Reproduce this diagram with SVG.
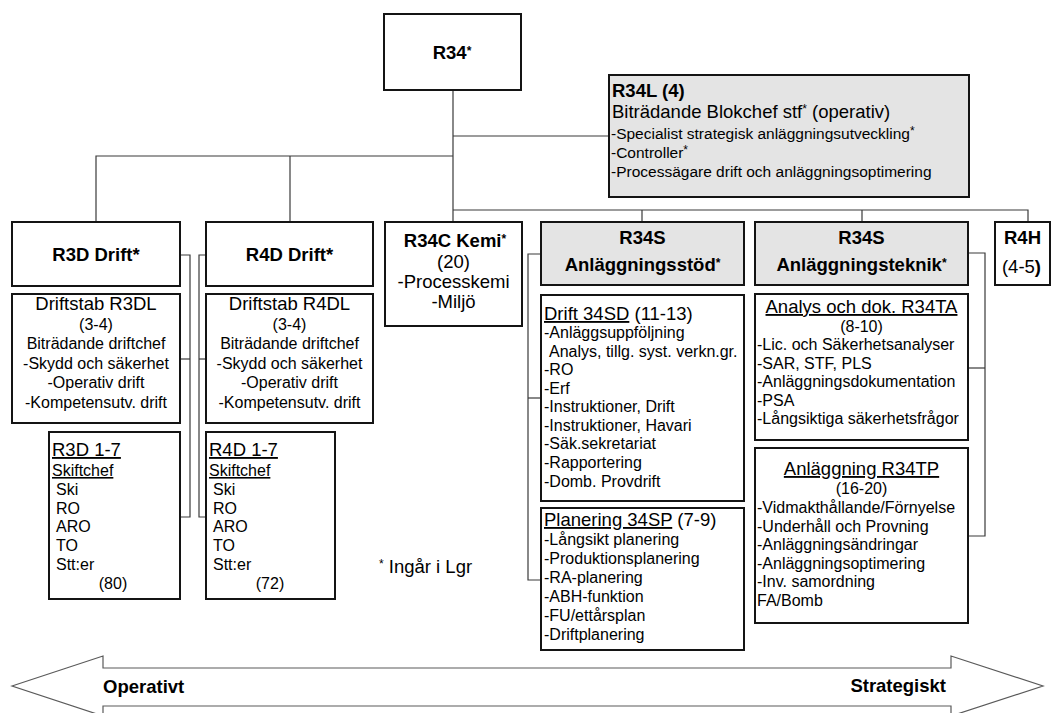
<svg xmlns="http://www.w3.org/2000/svg" width="1052" height="713" viewBox="0 0 1052 713">
  <style>
    .box { fill: #ffffff; stroke: #141414; stroke-width: 2; }
    .grey { fill: #e4e4e4; }
    .conn { fill: none; stroke: #3a3a3a; stroke-width: 1.2; }
    .band { fill: #ffffff; stroke: #5a5a5a; stroke-width: 1.2; }
    text { font-family: "Liberation Sans", Arial, sans-serif; fill: #000000; }
    .h { font-size: 18.5px; font-weight: bold; }
    .m { font-size: 18.5px; }
    .s { font-size: 16px; }
    .xs { font-size: 15.5px; }
    .c { text-anchor: middle; }
    .u { text-decoration: underline; }
    .star { font-size: 12px; }
  </style>

  <!-- connectors -->
  <g id="connectors">
    <path class="conn" d="M453 90 V222"/>
    <path class="conn" d="M453 136 H609"/>
    <path class="conn" d="M96 222 V156 H453"/>
    <path class="conn" d="M290 156 V222"/>
    <path class="conn" d="M453 210 H1028 V222"/>
    <path class="conn" d="M642 210 V222"/>
    <path class="conn" d="M862 210 V222"/>
    <!-- R3D side links -->
    <path class="conn" d="M180 255 H190 V517 H180"/>
    <path class="conn" d="M180 359 H190"/>
    <!-- R4D side links -->
    <path class="conn" d="M206 255 H199 V517 H206"/>
    <path class="conn" d="M206 359 H199"/>
    <!-- R34S support links -->
    <path class="conn" d="M541 254 H528 V580 H541"/>
    <path class="conn" d="M528 398 H541"/>
    <!-- R34S engineering links -->
    <path class="conn" d="M968 253 H985 V536 H968"/>
    <path class="conn" d="M968 368 H985"/>
  </g>

  <g id="r34">
    <rect class="box" x="384" y="14" width="137" height="76"/>
    <text class="h c" x="452" y="59">R34<tspan class="star" dy="-4">*</tspan></text>
  </g>

  <g id="r34l">
    <rect class="box grey" x="609" y="75" width="360" height="122"/>
    <text class="h" x="612" y="97">R34L (4)</text>
    <text class="m" x="612" y="118">Biträdande Blokchef stf<tspan class="star" dy="-5">*</tspan><tspan dy="5"> (operativ)</tspan></text>
    <text class="xs" x="611" y="139">-Specialist strategisk anläggningsutveckling<tspan class="star" dy="-4">*</tspan></text>
    <text class="xs" x="611" y="158">-Controller<tspan class="star" dy="-4">*</tspan></text>
    <text class="xs" x="611" y="177">-Processägare drift och anläggningsoptimering</text>
  </g>

  <g id="r3d">
    <rect class="box" x="12" y="222" width="168" height="64"/>
    <text class="h c" x="96" y="261">R3D Drift*</text>
  </g>

  <g id="r3dl">
    <rect class="box" x="12" y="294" width="168" height="129"/>
    <text class="m c" x="96" y="310">Driftstab R3DL</text>
    <text class="s c" x="96" y="329.5">(3-4)</text>
    <text class="s c" x="96" y="349">Biträdande driftchef</text>
    <text class="s c" x="96" y="368.5">-Skydd och säkerhet</text>
    <text class="s c" x="96" y="388">-Operativ drift</text>
    <text class="s c" x="96" y="407.5">-Kompetensutv. drift</text>
  </g>

  <g id="r3d17">
    <rect class="box" x="49" y="432" width="131" height="167"/>
    <text class="m u" x="52" y="456">R3D 1-7</text>
    <text class="s u" x="52" y="476">Skiftchef</text>
    <text class="s" x="56" y="495">Ski</text>
    <text class="s" x="56" y="514">RO</text>
    <text class="s" x="56" y="532">ARO</text>
    <text class="s" x="56" y="551">TO</text>
    <text class="s" x="56" y="570">Stt:er</text>
    <text class="s c" x="113" y="589">(80)</text>
  </g>

  <g id="r4d">
    <rect class="box" x="206" y="222" width="167" height="64"/>
    <text class="h c" x="289.5" y="261">R4D Drift*</text>
  </g>

  <g id="r4dl">
    <rect class="box" x="206" y="294" width="167" height="129"/>
    <text class="m c" x="289.5" y="310">Driftstab R4DL</text>
    <text class="s c" x="289.5" y="329.5">(3-4)</text>
    <text class="s c" x="289.5" y="349">Biträdande driftchef</text>
    <text class="s c" x="289.5" y="368.5">-Skydd och säkerhet</text>
    <text class="s c" x="289.5" y="388">-Operativ drift</text>
    <text class="s c" x="289.5" y="407.5">-Kompetensutv. drift</text>
  </g>

  <g id="r4d17">
    <rect class="box" x="206" y="432" width="129" height="167"/>
    <text class="m u" x="209" y="456">R4D 1-7</text>
    <text class="s u" x="209" y="476">Skiftchef</text>
    <text class="s" x="213" y="495">Ski</text>
    <text class="s" x="213" y="514">RO</text>
    <text class="s" x="213" y="532">ARO</text>
    <text class="s" x="213" y="551">TO</text>
    <text class="s" x="213" y="570">Stt:er</text>
    <text class="s c" x="270" y="589">(72)</text>
  </g>

  <g id="r34c">
    <rect class="box" x="385" y="222" width="137" height="104"/>
    <text class="h c" x="455" y="247">R34C Kemi<tspan class="star" dy="-4">*</tspan></text>
    <text class="m c" x="453.5" y="268">(20)</text>
    <text class="m c" x="453.5" y="288">-Processkemi</text>
    <text class="m c" x="453.5" y="308">-Miljö</text>
  </g>

  <g id="r34s-stod">
    <rect class="box grey" x="541" y="222" width="203" height="63"/>
    <text class="h c" x="642.5" y="244">R34S</text>
    <text class="h c" x="642.5" y="271">Anläggningsstöd<tspan class="star" dy="-4">*</tspan></text>
  </g>

  <g id="drift34sd">
    <rect class="box" x="541" y="295" width="203" height="206"/>
    <text class="m" x="544" y="320"><tspan class="u">Drift 34SD</tspan> (11-13)</text>
    <text class="s" x="544" y="338">-Anläggsuppföljning</text>
    <text class="s" x="549" y="357">Analys, tillg. syst. verkn.gr.</text>
    <text class="s" x="544" y="375">-RO</text>
    <text class="s" x="544" y="394">-Erf</text>
    <text class="s" x="544" y="412">-Instruktioner, Drift</text>
    <text class="s" x="544" y="431">-Instruktioner, Havari</text>
    <text class="s" x="544" y="449">-Säk.sekretariat</text>
    <text class="s" x="544" y="468">-Rapportering</text>
    <text class="s" x="544" y="487">-Domb. Provdrift</text>
  </g>

  <g id="planering34sp">
    <rect class="box" x="541" y="508" width="203" height="142"/>
    <text class="m" x="544" y="526"><tspan class="u">Planering 34SP</tspan> (7-9)</text>
    <text class="s" x="544" y="545">-Långsikt planering</text>
    <text class="s" x="544" y="564">-Produktionsplanering</text>
    <text class="s" x="544" y="583">-RA-planering</text>
    <text class="s" x="544" y="602">-ABH-funktion</text>
    <text class="s" x="544" y="621">-FU/ettårsplan</text>
    <text class="s" x="544" y="640">-Driftplanering</text>
  </g>

  <g id="r34s-teknik">
    <rect class="box grey" x="755" y="222" width="213" height="63"/>
    <text class="h c" x="861.5" y="244">R34S</text>
    <text class="h c" x="861.5" y="271">Anläggningsteknik<tspan class="star" dy="-4">*</tspan></text>
  </g>

  <g id="r34ta">
    <rect class="box" x="755" y="294" width="213" height="146"/>
    <text class="m c u" x="861.5" y="313">Analys och dok. R34TA</text>
    <text class="s c" x="861.5" y="332">(8-10)</text>
    <text class="s" x="757" y="350">-Lic. och Säkerhetsanalyser</text>
    <text class="s" x="757" y="369">-SAR, STF, PLS</text>
    <text class="s" x="757" y="387">-Anläggningsdokumentation</text>
    <text class="s" x="757" y="406">-PSA</text>
    <text class="s" x="757" y="424">-Långsiktiga säkerhetsfrågor</text>
  </g>

  <g id="r34tp">
    <rect class="box" x="755" y="448" width="213" height="175"/>
    <text class="m c u" x="861.5" y="475">Anläggning R34TP</text>
    <text class="s c" x="861.5" y="494">(16-20)</text>
    <text class="s" x="757" y="513">-Vidmakthållande/Förnyelse</text>
    <text class="s" x="757" y="532">-Underhåll och Provning</text>
    <text class="s" x="757" y="550">-Anläggningsändringar</text>
    <text class="s" x="757" y="569">-Anläggningsoptimering</text>
    <text class="s" x="757" y="587">-Inv. samordning</text>
    <text class="s" x="757" y="606">FA/Bomb</text>
  </g>

  <g id="r4h">
    <rect class="box" x="995" y="222" width="55" height="63"/>
    <text class="h c" x="1022.5" y="244">R4H</text>
    <text class="m c" x="1021.5" y="273">(4-5<tspan font-weight="bold">)</tspan></text>
  </g>

  <g id="legend">
    <text class="m" x="379" y="573"><tspan class="star" dy="-5">*</tspan><tspan dy="5"> Ingår i Lgr</tspan></text>
  </g>

  <!-- operative / strategic double arrow along the bottom -->
  <g id="scale-arrow">
    <path class="band" d="M12 686 L103 656 V668 H951 V656 L1043 686 L951 716 V706 H103 V716 Z"/>
    <text class="h" x="103" y="693">Operativt</text>
    <text class="h" x="946" y="692" text-anchor="end">Strategiskt</text>
  </g>
</svg>
